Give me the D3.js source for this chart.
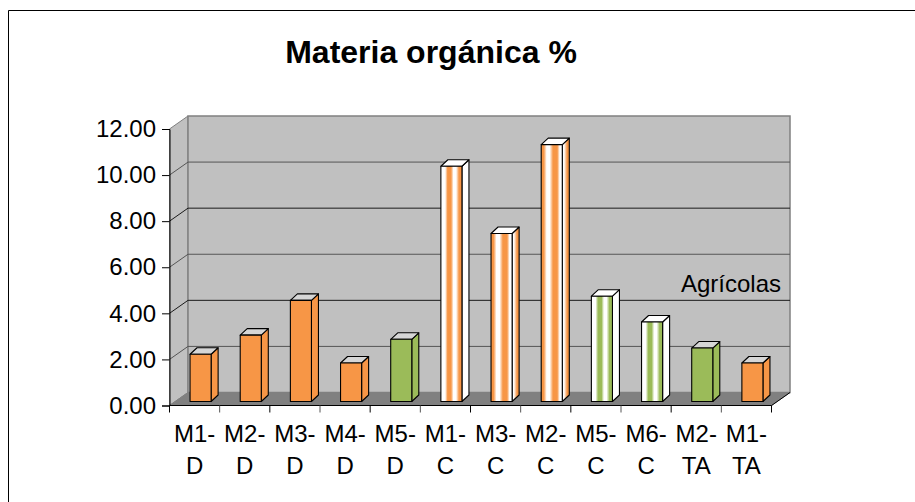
<!DOCTYPE html>
<html>
<head>
<meta charset="utf-8">
<script src="https://cdn.jsdelivr.net/npm/d3@7"></script>
<style>
html, body { margin: 0; padding: 0; background: #fff; }
svg { display: block; }
text { font-family: "Liberation Sans", Arial, sans-serif; fill: #000; }
</style>
</head>
<body>
<div id="chart"></div>
<script>
const titleText = "Materia orgánica %";
const annotation = "Agrícolas";
const categories = ["M1-D","M2-D","M3-D","M4-D","M5-D","M1-C","M3-C","M2-C","M5-C","M6-C","M2-TA","M1-TA"];
const values = [2.05,2.88,4.39,1.67,2.70,10.21,7.29,11.15,4.57,3.45,2.32,1.67];
const colorGroups = ["orange","orange","orange","orange","green","orange","orange","orange","green","green","green","orange"];
const faceKinds = ["solid","solid","solid","solid","solid","whiteFirst","colorFirst","colorFirst","whiteFirst","whiteFirst","solid","solid"];
const sideKinds = ["solid","solid","solid","solid","solid","white","fade","fade","white","white","solid","solid"];
const yTicks = [0,2,4,6,8,10,12];

const width = 915, height = 502;
const frontLeft = 169.5, frontRight = 771.5, frontBase = 405.5, frontTop = 129;
const depthX = 18.5, depthY = 13;          // offset of the back wall
const barDepthX = 7, barDepthY = 6.5;      // depth of a single bar
const barLift = 4, barShift = 6;           // bars stand in the middle of the floor

const palette = { orange: "#F79646", green: "#9BBB59" };

const svg = d3.select("#chart").append("svg").attr("width", width).attr("height", height);

// Chart frame: only the left and top edges fall inside the page
svg.append("path").attr("d", `M8.5,${height}V10.5H${width}`)
  .attr("fill", "none").attr("stroke", "#000").attr("stroke-width", 1);

const x = d3.scaleBand().domain(categories).range([frontLeft, frontRight]).paddingInner(0.58).paddingOuter(0.29);
const xStep = d3.scaleBand().domain(categories).range([frontLeft, frontRight]);
const y = d3.scaleLinear().domain([0, 12]).range([frontBase, frontTop]);

// Vertical stripe gradients for the striped bars
const defs = svg.append("defs");
const stripeRamps = {
  whiteFirst: [[0,"w"],[0.2,"w"],[0.32,"c"],[0.48,"c"],[0.6,"w"],[0.72,"w"],[0.86,"c"],[1,"c"]],
  colorFirst: [[0,"c"],[0.12,"c"],[0.26,"w"],[0.4,"w"],[0.56,"c"],[0.76,"c"],[0.88,"w"],[1,"w"]],
  fade: [[0,"w"],[0.25,"w"],[0.7,"c"],[1,"c"]]
};
Object.entries(stripeRamps).forEach(([kind, stops]) => {
  Object.keys(palette).forEach(key => {
    const g = defs.append("linearGradient").attr("id", `${kind}-${key}`)
      .attr("x1", 0).attr("x2", 1).attr("y1", 0).attr("y2", 0);
    stops.forEach(([o, c]) => g.append("stop").attr("offset", o)
      .attr("stop-color", c === "w" ? "#fff" : palette[key]));
  });
});

// Left wall, back wall and floor
const wallFill = "#C0C0C0", edge = "#808080";
svg.append("polygon")
  .attr("points", [[frontLeft,frontBase],[frontLeft,frontTop],[frontLeft+depthX,frontTop-depthY],[frontLeft+depthX,frontBase-depthY]].join(" "))
  .attr("fill", wallFill).attr("stroke", edge);
svg.append("rect")
  .attr("x", frontLeft+depthX).attr("y", frontTop-depthY)
  .attr("width", frontRight-frontLeft).attr("height", frontBase-frontTop)
  .attr("fill", wallFill).attr("stroke", edge).attr("stroke-width", 1.5);
svg.append("polygon")
  .attr("points", [[frontLeft,frontBase],[frontRight,frontBase],[frontRight+depthX,frontBase-depthY],[frontLeft+depthX,frontBase-depthY]].join(" "))
  .attr("fill", "#808080").attr("stroke", "#808080");
svg.append("line").attr("x1", frontRight).attr("x2", frontRight+depthX)
  .attr("y1", frontBase).attr("y2", frontBase-depthY).attr("stroke", "#000");

// Gridlines on the side and back walls
svg.append("g").selectAll("path").data(yTicks.filter(t => t > 0 && t < 12)).join("path")
  .attr("d", t => `M${frontLeft},${y(t)}L${frontLeft+depthX},${y(t)-depthY}H${frontRight+depthX}`)
  .attr("fill", "none").attr("stroke", (t, i) => i % 2 ? "#1a1a1a" : "#555").attr("stroke-width", 1);

// Value axis
const yAxis = svg.append("g").attr("transform", `translate(${frontLeft},0)`)
  .call(d3.axisLeft(y).tickValues(yTicks).tickFormat(d3.format(".2f")).tickSize(7.5).tickPadding(6));
yAxis.select(".domain").attr("stroke", "#000");
yAxis.selectAll("line").attr("stroke", "#000");
yAxis.selectAll("text").style("font-size", "24px");

// Category axis: ticks sit on the band edges, labels wrap on the hyphen
svg.append("line").attr("x1", frontLeft).attr("x2", frontRight)
  .attr("y1", frontBase).attr("y2", frontBase).attr("stroke", "#000");
svg.append("g").selectAll("line").data([...categories.map(c => xStep(c)), frontRight]).join("line")
  .attr("x1", d => d).attr("x2", d => d)
  .attr("y1", frontBase).attr("y2", frontBase + 7)
  .attr("stroke", (d, i) => i % 2 ? "#555" : "#000");
const labels = svg.append("g").selectAll("text").data(categories).join("text")
  .attr("text-anchor", "middle").style("font-size", "24px")
  .attr("transform", d => `translate(${xStep(d) + xStep.bandwidth()/2},0)`);
labels.append("tspan").attr("x", 0).attr("y", 441.5).text(d => d.split("-")[0] + "-");
labels.append("tspan").attr("x", 0).attr("y", 473.5).text(d => d.split("-")[1]);

// Bars: side, top and front face
const bars = svg.append("g").selectAll("g").data(categories).join("g")
  .attr("transform", `translate(${barShift},${-barLift})`);
const facePaint = i => faceKinds[i] === "solid" ? palette[colorGroups[i]] : `url(#${faceKinds[i]}-${colorGroups[i]})`;
const sidePaint = i => sideKinds[i] === "solid" ? palette[colorGroups[i]]
  : sideKinds[i] === "white" ? "#fff" : `url(#fade-${colorGroups[i]})`;
const outline = sel => sel.attr("stroke", "#000").attr("stroke-width", 1.1).attr("stroke-linejoin", "round");

bars.append("polygon")
  .attr("points", (d, i) => {
    const x1 = x(d) + x.bandwidth(), t = y(values[i]), b = y(0);
    return [[x1,t],[x1+barDepthX,t-barDepthY],[x1+barDepthX,b-barDepthY],[x1,b]].join(" ");
  })
  .attr("fill", (d, i) => sidePaint(i))
  .call(outline);
bars.append("polygon")
  .attr("points", (d, i) => {
    const x0 = x(d), x1 = x0 + x.bandwidth(), t = y(values[i]);
    return [[x0,t],[x0+barDepthX,t-barDepthY],[x1+barDepthX,t-barDepthY],[x1,t]].join(" ");
  })
  .attr("fill", (d, i) => faceKinds[i] === "solid" ? "#D6D6D6" : "#fff")
  .call(outline);
bars.append("rect")
  .attr("x", d => x(d)).attr("width", x.bandwidth())
  .attr("y", (d, i) => y(values[i])).attr("height", (d, i) => y(0) - y(values[i]))
  .attr("fill", (d, i) => facePaint(i))
  .call(outline);

// Title and annotation
svg.append("text").attr("x", 431).attr("y", 63).attr("text-anchor", "middle")
  .style("font-size", "32px").style("font-weight", "bold").text(titleText);
svg.append("text").attr("x", 681).attr("y", 292).style("font-size", "24px").text(annotation);
</script>
</body>
</html>
